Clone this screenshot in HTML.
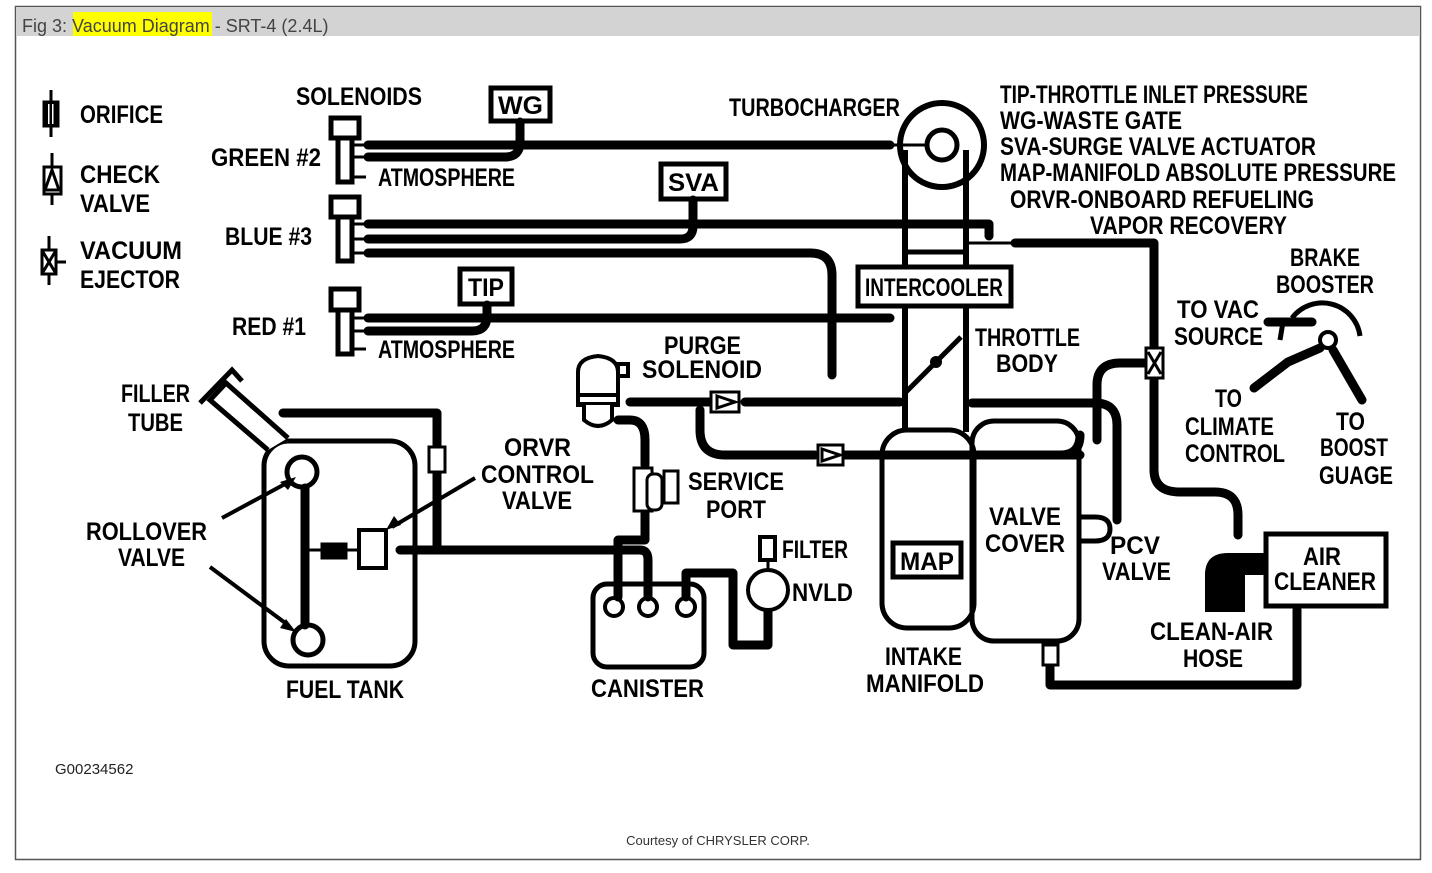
<!DOCTYPE html>
<html><head><meta charset="utf-8"><style>
html,body{margin:0;padding:0;background:#fff;}
svg{display:block}
.t{font-family:"Liberation Sans",sans-serif;font-weight:bold;font-size:25px;fill:#000}
.h{fill:none;stroke:#000;stroke-width:9;stroke-linecap:round;stroke-linejoin:round}
.o{fill:none;stroke:#000;stroke-width:5}
.n{fill:none;stroke:#000;stroke-width:3}
</style></head><body>
<svg width="1432" height="873" viewBox="0 0 1432 873" xmlns="http://www.w3.org/2000/svg">
<rect x="0" y="0" width="1432" height="873" fill="#fff"/>
<rect x="15.5" y="6.5" width="1405" height="853" fill="#fff" stroke="#555" stroke-width="1.5"/>
<rect x="16" y="7" width="1404" height="29" fill="#d3d3d3"/>
<rect x="73" y="12" width="139" height="24" fill="#ffff00"/>
<text x="22" y="32" font-family="Liberation Sans,sans-serif" font-size="18" fill="#444">Fig 3: <tspan>Vacuum Diagram</tspan> - SRT-4 (2.4L)</text>

<!-- legend symbols -->
<g class="n"><line x1="51" y1="90" x2="51" y2="137"/><rect x="44" y="102" width="14" height="24" style="fill:#000"/>
<line x1="52" y1="153" x2="52" y2="205"/><rect x="44" y="167" width="17" height="27" style="fill:#fff"/><path d="M45 190 L52 170 L59 190 Z"/>
<line x1="49" y1="236" x2="49" y2="285"/><rect x="42" y="250" width="14" height="24" style="fill:#fff"/><path d="M43 252 L55 272 M55 252 L43 272"/><line x1="56" y1="262" x2="66" y2="262"/></g>
<rect x="48" y="104" width="1.5" height="20" fill="#fff"/><rect x="52" y="104" width="1.5" height="20" fill="#fff"/>

<g class="t">
<text x="80" y="123" textLength="83" lengthAdjust="spacingAndGlyphs">ORIFICE</text>
<text x="80" y="183" textLength="80" lengthAdjust="spacingAndGlyphs">CHECK</text>
<text x="80" y="212" textLength="70" lengthAdjust="spacingAndGlyphs">VALVE</text>
<text x="80" y="259" textLength="102" lengthAdjust="spacingAndGlyphs">VACUUM</text>
<text x="80" y="288" textLength="100" lengthAdjust="spacingAndGlyphs">EJECTOR</text>
<text x="296" y="105" textLength="126" lengthAdjust="spacingAndGlyphs">SOLENOIDS</text>
<text x="729" y="116" textLength="171" lengthAdjust="spacingAndGlyphs">TURBOCHARGER</text>
<text x="1000" y="103" textLength="308" lengthAdjust="spacingAndGlyphs">TIP-THROTTLE INLET PRESSURE</text>
<text x="1000" y="129" textLength="182" lengthAdjust="spacingAndGlyphs">WG-WASTE GATE</text>
<text x="1000" y="155" textLength="316" lengthAdjust="spacingAndGlyphs">SVA-SURGE VALVE ACTUATOR</text>
<text x="1000" y="181" textLength="396" lengthAdjust="spacingAndGlyphs">MAP-MANIFOLD ABSOLUTE PRESSURE</text>
<text x="1010" y="208" textLength="304" lengthAdjust="spacingAndGlyphs">ORVR-ONBOARD REFUELING</text>
<text x="1090" y="234" textLength="197" lengthAdjust="spacingAndGlyphs">VAPOR RECOVERY</text>
<text x="211" y="166" textLength="110" lengthAdjust="spacingAndGlyphs">GREEN #2</text>
<text x="378" y="186" textLength="137" lengthAdjust="spacingAndGlyphs">ATMOSPHERE</text>
<text x="225" y="245" textLength="87" lengthAdjust="spacingAndGlyphs">BLUE #3</text>
<text x="232" y="335" textLength="74" lengthAdjust="spacingAndGlyphs">RED #1</text>
<text x="378" y="358" textLength="137" lengthAdjust="spacingAndGlyphs">ATMOSPHERE</text>
<text x="975" y="346" textLength="105" lengthAdjust="spacingAndGlyphs">THROTTLE</text>
<text x="996" y="372" textLength="62" lengthAdjust="spacingAndGlyphs">BODY</text>
<text x="1290" y="266" textLength="70" lengthAdjust="spacingAndGlyphs">BRAKE</text>
<text x="1276" y="293" textLength="98" lengthAdjust="spacingAndGlyphs">BOOSTER</text>
<text x="1177" y="318" textLength="82" lengthAdjust="spacingAndGlyphs">TO VAC</text>
<text x="1174" y="345" textLength="89" lengthAdjust="spacingAndGlyphs">SOURCE</text>
<text x="1215" y="407" textLength="27" lengthAdjust="spacingAndGlyphs">TO</text>
<text x="1185" y="435" textLength="89" lengthAdjust="spacingAndGlyphs">CLIMATE</text>
<text x="1185" y="462" textLength="100" lengthAdjust="spacingAndGlyphs">CONTROL</text>
<text x="1336" y="430" textLength="29" lengthAdjust="spacingAndGlyphs">TO</text>
<text x="1320" y="456" textLength="68" lengthAdjust="spacingAndGlyphs">BOOST</text>
<text x="1319" y="484" textLength="74" lengthAdjust="spacingAndGlyphs">GUAGE</text>
<text x="664" y="354" textLength="77" lengthAdjust="spacingAndGlyphs">PURGE</text>
<text x="642" y="378" textLength="120" lengthAdjust="spacingAndGlyphs">SOLENOID</text>
<text x="121" y="402" textLength="69" lengthAdjust="spacingAndGlyphs">FILLER</text>
<text x="128" y="431" textLength="55" lengthAdjust="spacingAndGlyphs">TUBE</text>
<text x="504" y="456" textLength="67" lengthAdjust="spacingAndGlyphs">ORVR</text>
<text x="481" y="483" textLength="113" lengthAdjust="spacingAndGlyphs">CONTROL</text>
<text x="502" y="509" textLength="70" lengthAdjust="spacingAndGlyphs">VALVE</text>
<text x="688" y="490" textLength="96" lengthAdjust="spacingAndGlyphs">SERVICE</text>
<text x="706" y="518" textLength="60" lengthAdjust="spacingAndGlyphs">PORT</text>
<text x="86" y="540" textLength="121" lengthAdjust="spacingAndGlyphs">ROLLOVER</text>
<text x="118" y="566" textLength="67" lengthAdjust="spacingAndGlyphs">VALVE</text>
<text x="782" y="558" textLength="66" lengthAdjust="spacingAndGlyphs">FILTER</text>
<text x="792" y="601" textLength="61" lengthAdjust="spacingAndGlyphs">NVLD</text>
<text x="989" y="525" textLength="72" lengthAdjust="spacingAndGlyphs">VALVE</text>
<text x="985" y="552" textLength="80" lengthAdjust="spacingAndGlyphs">COVER</text>
<text x="1110" y="554" textLength="50" lengthAdjust="spacingAndGlyphs">PCV</text>
<text x="1102" y="580" textLength="69" lengthAdjust="spacingAndGlyphs">VALVE</text>
<text x="1303" y="565" textLength="38" lengthAdjust="spacingAndGlyphs">AIR</text>
<text x="1274" y="590" textLength="102" lengthAdjust="spacingAndGlyphs">CLEANER</text>
<text x="1150" y="640" textLength="123" lengthAdjust="spacingAndGlyphs">CLEAN-AIR</text>
<text x="1183" y="667" textLength="60" lengthAdjust="spacingAndGlyphs">HOSE</text>
<text x="286" y="698" textLength="118" lengthAdjust="spacingAndGlyphs">FUEL TANK</text>
<text x="591" y="697" textLength="113" lengthAdjust="spacingAndGlyphs">CANISTER</text>
<text x="885" y="665" textLength="77" lengthAdjust="spacingAndGlyphs">INTAKE</text>
<text x="866" y="692" textLength="118" lengthAdjust="spacingAndGlyphs">MANIFOLD</text>
</g>
<text x="55" y="774" font-family="Liberation Sans,sans-serif" font-size="15" fill="#222">G00234562</text>
<text x="718" y="845" font-family="Liberation Sans,sans-serif" font-size="13" fill="#333" text-anchor="middle">Courtesy of CHRYSLER CORP.</text>

<!-- boxes with text -->
<rect x="491" y="88" width="59" height="33" class="o"/><text class="t" x="498" y="114" textLength="45" lengthAdjust="spacingAndGlyphs">WG</text>
<rect x="661" y="164" width="65" height="35" class="o"/><text class="t" x="668" y="191" textLength="51" lengthAdjust="spacingAndGlyphs">SVA</text>
<rect x="460" y="269" width="52" height="35" class="o"/><text class="t" x="468" y="296" textLength="36" lengthAdjust="spacingAndGlyphs">TIP</text>
<rect x="893" y="543" width="68" height="34" class="o"/><text class="t" x="900" y="570" textLength="54" lengthAdjust="spacingAndGlyphs">MAP</text>
<rect x="1266" y="534" width="120" height="72" class="o"/>

<!-- solenoids -->
<g class="o" style="fill:#fff">
<rect x="331" y="118" width="28" height="20"/><rect x="338" y="138" width="14" height="44"/>
<rect x="331" y="197" width="28" height="20"/><rect x="338" y="217" width="14" height="44"/>
<rect x="331" y="289" width="28" height="21"/><rect x="338" y="310" width="14" height="44"/>
</g>
<g class="n"><line x1="352" y1="145" x2="365" y2="145"/><line x1="352" y1="157" x2="365" y2="157"/><line x1="352" y1="177" x2="366" y2="177"/>
<line x1="352" y1="224" x2="365" y2="224"/><line x1="352" y1="239" x2="365" y2="239"/><line x1="352" y1="253" x2="365" y2="253"/>
<line x1="352" y1="318" x2="365" y2="318"/><line x1="352" y1="331" x2="365" y2="331"/><line x1="352" y1="349" x2="366" y2="349"/></g>

<!-- hoses -->
<g class="h">
<path d="M368 145 H890"/>
<path d="M368 157 H505 Q520 157 520 142 V122"/>
<path d="M368 224 H989 V236"/>
<path d="M368 239 H680 Q693 239 693 226 V200"/>
<path d="M368 253 H810 Q832 253 832 275 V375"/>
<path d="M368 318 H890"/>
<path d="M368 331 H472 Q487 331 487 316 V305"/>
<path d="M630 402 H710"/><path d="M745 402 H900"/>
<path d="M700 410 V430 Q700 455 725 455 H815"/>
<path d="M845 455 H1060 Q1080 455 1080 435"/>
<path d="M1097 440 V385 Q1097 363 1120 363 H1146"/>
<path d="M972 403 H1095 Q1117 403 1117 425 V520"/>
<path d="M1015 243 H1154 V348"/>
<path d="M1154 380 V470 Q1154 492 1180 492 H1215 Q1238 492 1238 515 V535"/>
<path d="M618 420 H630 Q645 420 645 440 V465"/>
<path d="M645 512 V540 H618 V597"/>
<path d="M283 413 H437 V445"/><path d="M437 472 V548"/>
<path d="M400 550 H640 Q648 550 648 560 V597"/>
<path d="M686 597 V573 H733 V645 H768 V612"/>
<path d="M305 488 V625"/>
<path d="M1297 610 V685 H1050 V667"/>
<path d="M1268 322 H1312"/>
<path d="M1320 348 L1288 362 L1254 388"/>
<path d="M1333 350 L1362 400"/>
</g>
<line x1="305" y1="550" x2="323" y2="550" class="n"/><line x1="345" y1="550" x2="360" y2="550" class="n"/>
<line x1="890" y1="145" x2="927" y2="145" class="n"/>
<line x1="1283" y1="322" x2="1280" y2="340" class="n" style="stroke-width:5"/>
<line x1="768" y1="560" x2="768" y2="570" class="n"/>

<!-- turbo & pipes -->
<circle cx="942" cy="145" r="42" class="o" style="stroke-width:6"/>
<circle cx="942" cy="145" r="15" class="o"/>
<line x1="905" y1="150" x2="905" y2="432" class="o" style="stroke-width:6"/>
<line x1="966" y1="150" x2="966" y2="432" class="o" style="stroke-width:6"/>
<line x1="905" y1="252" x2="966" y2="252" class="o"/>
<line x1="905" y1="223" x2="966" y2="223" class="n"/>
<line x1="905" y1="393" x2="961" y2="337" class="o"/>
<circle cx="936" cy="362" r="6"/>
<line x1="966" y1="243" x2="1015" y2="243" class="n"/>
<rect x="858" y="267" width="153" height="39" class="o" style="fill:#fff"/><text class="t" x="865" y="296" textLength="138" lengthAdjust="spacingAndGlyphs">INTERCOOLER</text>

<!-- intake manifold & valve cover -->
<rect x="882" y="430" width="92" height="198" rx="25" class="o"/>
<rect x="972" y="421" width="107" height="220" rx="22" class="o"/>
<path d="M1080 455 H1060" class="h"/>
<rect x="1043" y="645" width="15" height="20" class="n" style="fill:#fff"/>
<path d="M1080 517 H1095 Q1110 517 1110 529 Q1110 541 1095 541 H1080" class="o"/>

<!-- valves -->
<g class="n" style="fill:#fff">
<rect x="711" y="392" width="28" height="20"/><path d="M717 396 L735 402 L717 408 Z"/>
<rect x="818" y="445" width="25" height="20"/><path d="M822 449 L840 455 L822 461 Z"/>
<rect x="1146" y="348" width="17" height="30"/><path d="M1148 352 L1161 374 M1161 352 L1148 374"/>
<rect x="429" y="447" width="16" height="25"/>
<rect x="322" y="544" width="24" height="14" style="fill:#000"/>
<rect x="359" y="530" width="27" height="38" style="stroke-width:4"/>
<rect x="760" y="537" width="15" height="23" style="stroke-width:4"/>
<circle cx="768" cy="590" r="20" style="stroke-width:4"/>
</g>

<path d="M1205 612 V575 Q1205 553 1228 553 H1265 V575 H1245 V612 Z" fill="#000"/>

<!-- brake booster -->
<path d="M1292 318 A38 38 0 0 1 1360 336" class="o"/>
<circle cx="1328" cy="340" r="8" class="o" style="fill:#fff;stroke-width:4"/>

<!-- purge solenoid -->
<g class="o" style="fill:#fff;stroke-width:4">
<path d="M578 372 Q578 358 598 356 Q618 358 618 372 V405 H578 Z"/>
<rect x="618" y="364" width="10" height="12"/>
<rect x="578" y="395" width="40" height="9"/>
<path d="M584 405 V420 Q598 432 612 420 V405"/>
</g>
<!-- service port -->
<g class="n" style="fill:#fff">
<rect x="634" y="468" width="18" height="43"/><rect x="647" y="474" width="15" height="36" rx="6"/><rect x="664" y="471" width="14" height="32"/>
</g>

<!-- fuel tank -->
<rect x="264" y="441" width="151" height="225" rx="25" class="o"/>
<path d="M268 450 L210 400 L226 383 L288 438" class="o" style="fill:#fff"/>
<path d="M200 403 L232 370 L242 381" class="o"/>
<circle cx="302" cy="472" r="15" class="o"/>
<circle cx="308" cy="640" r="15" class="o"/>
<g class="n" style="stroke-width:4">
<line x1="222" y1="518" x2="285" y2="484"/><line x1="210" y1="567" x2="288" y2="625"/><line x1="475" y1="478" x2="392" y2="527"/></g>
<path d="M296 477 L280 482 L288 490 Z" fill="#000"/>
<path d="M296 632 L280 628 L286 619 Z" fill="#000"/>
<path d="M386 530 L394 516 L401 525 Z" fill="#000"/>

<!-- canister -->
<rect x="593" y="584" width="111" height="83" rx="14" class="o"/>
<circle cx="614" cy="607" r="9" class="o" style="stroke-width:4"/>
<circle cx="648" cy="607" r="9" class="o" style="stroke-width:4"/>
<circle cx="686" cy="607" r="9" class="o" style="stroke-width:4"/>
</svg>
</body></html>
